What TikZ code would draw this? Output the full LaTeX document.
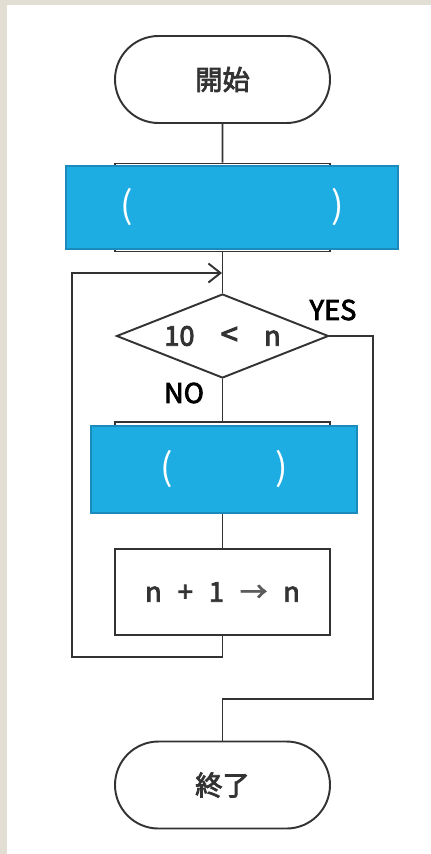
\documentclass[tikz,border=0pt]{standalone}
\usepackage{fontspec}
\setmainfont{Noto Sans CJK JP}[AutoFakeBold=3]
\usepackage{xcolor}
\usetikzlibrary{shapes,shapes.misc,arrows.meta}
\definecolor{paper}{HTML}{E3DED4}
\definecolor{ink}{HTML}{333333}
\definecolor{coverblue}{HTML}{1EADE3}
\definecolor{coveredge}{HTML}{1A8BBA}

\tikzset{
  term/.style={rounded rectangle, draw=ink, fill=white, line width=1.1pt,
    minimum width=43mm, minimum height=17.4mm, inner sep=0pt},
  proc/.style={rectangle, draw=ink, fill=white, line width=1.1pt,
    minimum width=43mm, inner sep=0pt},
  decide/.style={diamond, draw=ink, fill=white, line width=1.1pt,
    minimum width=42.4mm, minimum height=16.8mm, inner sep=0pt},
  cover/.style={rectangle, draw=coveredge, fill=coverblue, line width=0.8pt,
    text=white, inner sep=0pt, font=\fontsize{21}{23}\selectfont},
  tag/.style={font=\fontsize{15.5}{17}\selectfont\bfseries, text=black, inner sep=0pt}
}

\begin{document}
\begin{tikzpicture}[x=0.2mm, y=-0.2mm, ink, line width=1.1pt,
    font=\fontsize{15.5}{17}\selectfont\bfseries]
  \fill[paper] (0,0) rectangle (431,854);
  \fill[white] (7,5) rectangle (431,854);
  \useasboundingbox (0,0) rectangle (431,854);

  \node [term] (start) at (222.5,79.5) {開始};
  \node [proc, minimum height=17.6mm] (init) [below of=start, node distance=25.6mm] {};
  \node [decide] (test) [below of=init, node distance=25.7mm] {\makebox[0pt]{10\hspace{5.2mm}{\fontsize{18}{18}\selectfont<}\hspace{5.2mm}n}};
  \node [proc, minimum height=18mm] (work) [below of=test, node distance=26.2mm] {};
  \node [proc, minimum height=17.2mm] (inc) [below of=work, node distance=25mm] {n\hspace{3.2mm}+\hspace{3.2mm}1\hspace{3.2mm}{\color{ink!80}→}\hspace{3.2mm}n};
  \node [term] (stop) [below of=inc, node distance=38.6mm] {終了};

  \coordinate (join) at (222,273);
  \coordinate (back) at (72,657);
  \coordinate (exit) at (373,699);

  \path
    (start) edge (init)
    (init) edge (test)
    (test) edge (work)
    (work) edge (inc)
  ;
  \draw [-{Straight Barb[length=2.4mm,width=3.8mm]}] (inc.south) |- (back) |- (join);
  \draw (test.east) -| (exit) -| (stop.north);

  % blue covers over the two boxes
  \node [cover, minimum width=66.4mm, minimum height=16.6mm] (initc)
    at ([xshift=1.9mm]init) {\makebox[44.6mm]{(\hfill)}};
  \node [cover, minimum width=53.2mm, minimum height=17.4mm] (workc)
    at ([xshift=0.3mm,yshift=-0.5mm]work) {\makebox[25.4mm]{(\hfill)}};

  \node [tag] (yes) at (333,310) {YES};
  \node [tag] (no) at (184,393) {NO};
\end{tikzpicture}
\end{document}
